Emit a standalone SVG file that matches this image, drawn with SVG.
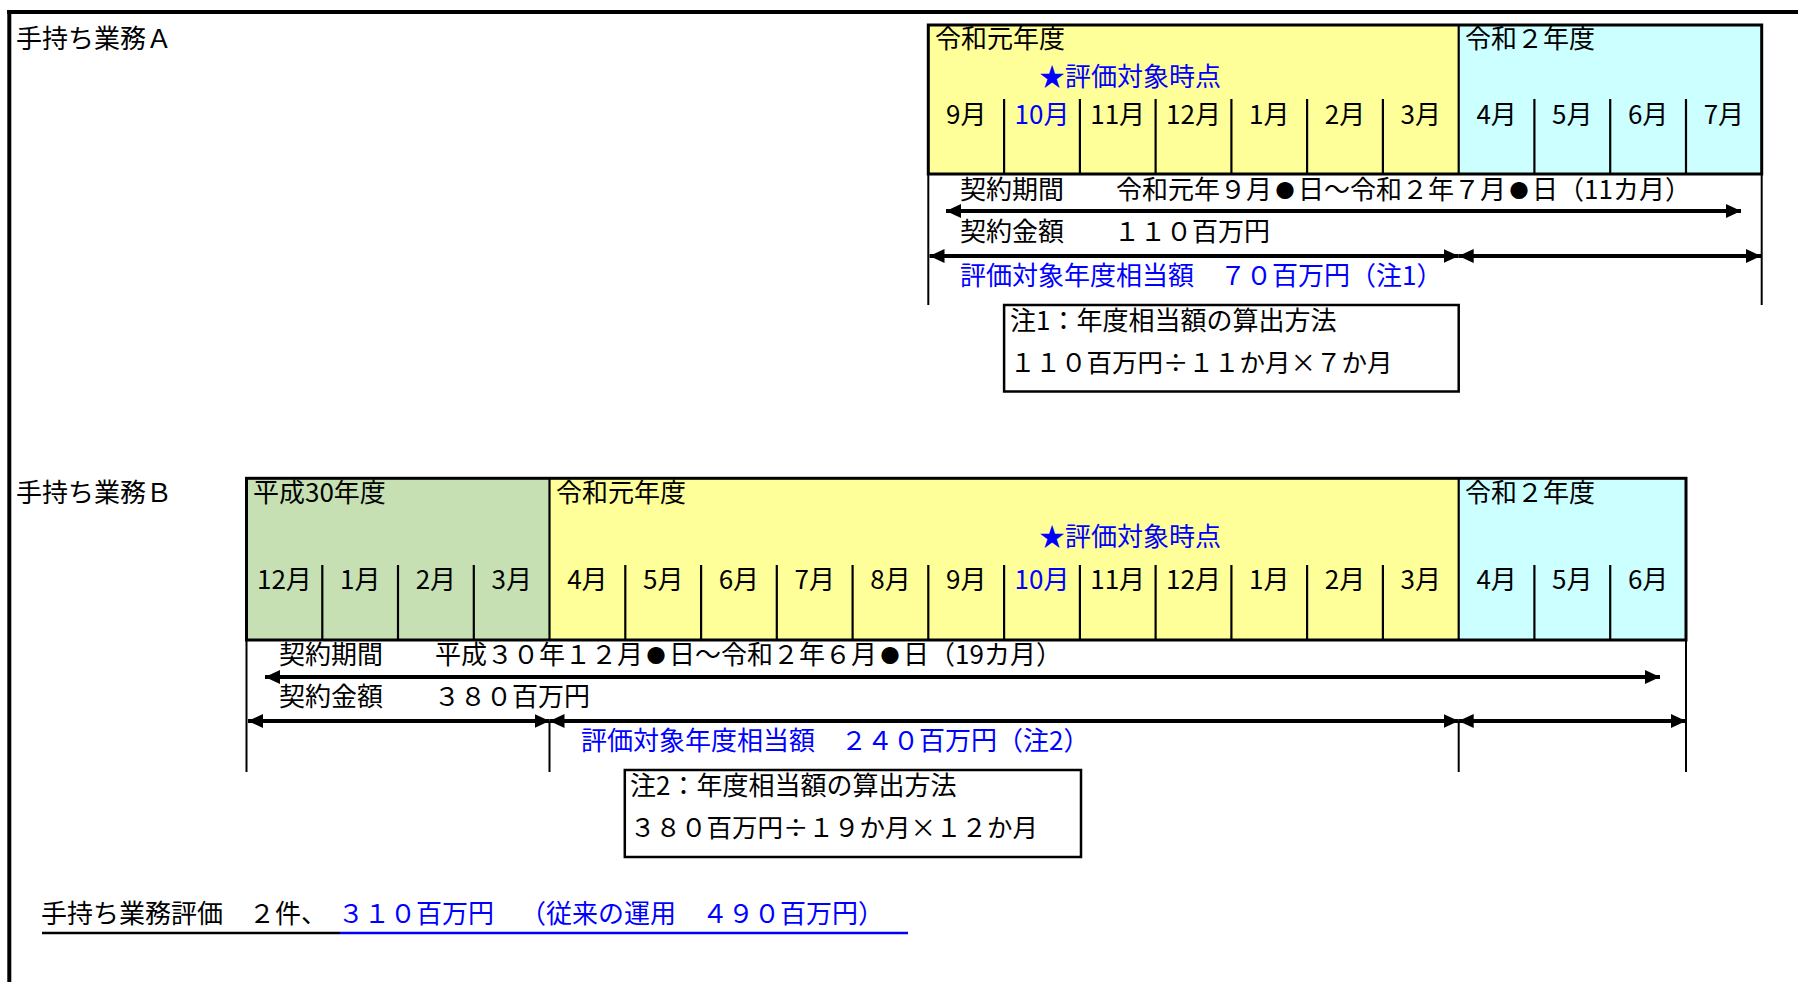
<svg xmlns="http://www.w3.org/2000/svg" width="1798" height="982" viewBox="0 0 1798 982">
<style>
text{font-family:"Noto Sans CJK JP","Noto Sans CJK SC",sans-serif;font-size:26px;fill:#000}
.b{fill:#0000FF}
.m{text-anchor:middle}
.s{font-size:25.5px}
.dot{font-size:19px}
.frame{fill:none;stroke:#000;stroke-width:3}
.div{stroke:#000;stroke-width:2.2}
.arr{stroke:#000;stroke-width:4;fill:none;marker-start:url(#ah);marker-end:url(#ah)}
.vl{stroke:#000;stroke-width:2}
.box{fill:#fff;stroke:#000;stroke-width:2.5}
</style>
<defs>
<marker id="ah" markerUnits="userSpaceOnUse" markerWidth="15" markerHeight="15" viewBox="0 0 15 15" refX="15" refY="7.5" orient="auto-start-reverse">
<path d="M0,0.5 L15,7.5 L0,14.5 z" fill="#000"/>
</marker>
</defs>
<rect x="0" y="0" width="1798" height="982" fill="#fff"/>
<g id="page-frame">
<line x1="7" y1="12" x2="1798" y2="12" stroke="#000" stroke-width="4"/>
<line x1="9.3" y1="10" x2="9.3" y2="982" stroke="#000" stroke-width="4"/>
</g>

<g id="title-a"><text x="16" y="48">手持ち業務Ａ</text></g>
<g id="title-b"><text x="16" y="502">手持ち業務Ｂ</text></g>

<g id="table-a">
<rect x="928.3" y="25" width="530.4" height="149" fill="#FFFF99"/>
<rect x="1458.7" y="25" width="303" height="149" fill="#CCFFFF"/>
<line class="div" x1="1458.7" y1="25" x2="1458.7" y2="174"/>
<line class="div" x1="1004.1" y1="99" x2="1004.1" y2="174"/>
<line class="div" x1="1079.9" y1="99" x2="1079.9" y2="174"/>
<line class="div" x1="1155.6" y1="99" x2="1155.6" y2="174"/>
<line class="div" x1="1231.4" y1="99" x2="1231.4" y2="174"/>
<line class="div" x1="1307.1" y1="99" x2="1307.1" y2="174"/>
<line class="div" x1="1382.9" y1="99" x2="1382.9" y2="174"/>
<line class="div" x1="1534.4" y1="99" x2="1534.4" y2="174"/>
<line class="div" x1="1610.2" y1="99" x2="1610.2" y2="174"/>
<line class="div" x1="1686" y1="99" x2="1686" y2="174"/>
<rect class="frame" x="928.3" y="25" width="833.4" height="149"/>
<text x="935" y="48">令和元年度</text>
<text x="1465" y="48">令和２年度</text>
<text class="b" x="1039" y="86">★評価対象時点</text>
<text class="m" x="966.2" y="124">9月</text>
<text class="m b" x="1042" y="124">10月</text>
<text class="m" x="1117.7" y="124">11月</text>
<text class="m" x="1193.5" y="124">12月</text>
<text class="m" x="1269.3" y="124">1月</text>
<text class="m" x="1345" y="124">2月</text>
<text class="m" x="1420.8" y="124">3月</text>
<text class="m" x="1496.6" y="124">4月</text>
<text class="m" x="1572.3" y="124">5月</text>
<text class="m" x="1648.1" y="124">6月</text>
<text class="m" x="1723.9" y="124">7月</text>
<text x="960" y="199">契約期間</text>
<text x="1116" y="199">令和元年９月<tspan class="dot" dx="3.5" dy="-1.5">●</tspan><tspan dx="3.5" dy="1.5">日～令和２年７月</tspan><tspan class="dot" dx="3.5" dy="-1.5">●</tspan><tspan dx="3.5" dy="1.5">日（11カ月）</tspan></text>
<text x="960" y="241">契約金額</text>
<text x="1114" y="241">１１０百万円</text>
<text class="b" x="960" y="285">評価対象年度相当額　７０百万円（注1）</text>
</g>

<g id="note-a">
<rect class="box" x="1004.1" y="305" width="454.6" height="86.5"/>
<text x="1010" y="330">注1：年度相当額の算出方法</text>
<text class="s" x="1010" y="372">１１０百万円÷１１か月×７か月</text>
</g>

<g id="table-b">
<rect x="246.5" y="478.3" width="303" height="161.7" fill="#C6E0B4"/>
<rect x="549.5" y="478.3" width="909.2" height="161.7" fill="#FFFF99"/>
<rect x="1458.7" y="478.3" width="227.3" height="161.7" fill="#CCFFFF"/>
<line class="div" x1="549.5" y1="478.3" x2="549.5" y2="640"/>
<line class="div" x1="1458.7" y1="478.3" x2="1458.7" y2="640"/>
<line class="div" x1="322.3" y1="565" x2="322.3" y2="640"/>
<line class="div" x1="398" y1="565" x2="398" y2="640"/>
<line class="div" x1="473.8" y1="565" x2="473.8" y2="640"/>
<line class="div" x1="625.3" y1="565" x2="625.3" y2="640"/>
<line class="div" x1="701.1" y1="565" x2="701.1" y2="640"/>
<line class="div" x1="776.8" y1="565" x2="776.8" y2="640"/>
<line class="div" x1="852.6" y1="565" x2="852.6" y2="640"/>
<line class="div" x1="928.3" y1="565" x2="928.3" y2="640"/>
<line class="div" x1="1004.1" y1="565" x2="1004.1" y2="640"/>
<line class="div" x1="1079.9" y1="565" x2="1079.9" y2="640"/>
<line class="div" x1="1155.6" y1="565" x2="1155.6" y2="640"/>
<line class="div" x1="1231.4" y1="565" x2="1231.4" y2="640"/>
<line class="div" x1="1307.1" y1="565" x2="1307.1" y2="640"/>
<line class="div" x1="1382.9" y1="565" x2="1382.9" y2="640"/>
<line class="div" x1="1534.4" y1="565" x2="1534.4" y2="640"/>
<line class="div" x1="1610.2" y1="565" x2="1610.2" y2="640"/>
<rect class="frame" x="246.5" y="478.3" width="1439.5" height="161.7"/>
<text x="253" y="502">平成30年度</text>
<text x="556" y="502">令和元年度</text>
<text x="1465" y="502">令和２年度</text>
<text class="b" x="1039" y="546">★評価対象時点</text>
<text class="m" x="284.4" y="589">12月</text>
<text class="m" x="360.2" y="589">1月</text>
<text class="m" x="435.9" y="589">2月</text>
<text class="m" x="511.7" y="589">3月</text>
<text class="m" x="587.4" y="589">4月</text>
<text class="m" x="663.2" y="589">5月</text>
<text class="m" x="738.9" y="589">6月</text>
<text class="m" x="814.7" y="589">7月</text>
<text class="m" x="890.5" y="589">8月</text>
<text class="m" x="966.2" y="589">9月</text>
<text class="m b" x="1042" y="589">10月</text>
<text class="m" x="1117.7" y="589">11月</text>
<text class="m" x="1193.5" y="589">12月</text>
<text class="m" x="1269.3" y="589">1月</text>
<text class="m" x="1345" y="589">2月</text>
<text class="m" x="1420.8" y="589">3月</text>
<text class="m" x="1496.6" y="589">4月</text>
<text class="m" x="1572.3" y="589">5月</text>
<text class="m" x="1648.1" y="589">6月</text>
<text x="279" y="664">契約期間</text>
<text x="435" y="664">平成３０年１２月<tspan class="dot" dx="3.5" dy="-1.5">●</tspan><tspan dx="3.5" dy="1.5">日～令和２年６月</tspan><tspan class="dot" dx="3.5" dy="-1.5">●</tspan><tspan dx="3.5" dy="1.5">日（19カ月）</tspan></text>
<text x="279" y="706">契約金額</text>
<text x="434" y="706">３８０百万円</text>
<text class="b" x="581" y="750">評価対象年度相当額　２４０百万円（注2）</text>
</g>

<g id="note-b">
<rect class="box" x="624.8" y="770" width="456.2" height="87"/>
<text x="630" y="795">注2：年度相当額の算出方法</text>
<text class="s" x="630" y="837">３８０百万円÷１９か月×１２か月</text>
</g>

<g id="summary">
<text x="41" y="923">手持ち業務評価　２件、</text>
<text class="b" x="338" y="923">３１０百万円　<tspan dx="13">（従来の運用　４９０百万円）</tspan></text>
<line x1="42" y1="933" x2="340" y2="933" stroke="#000" stroke-width="2.5"/>
<line x1="340" y1="933" x2="908" y2="933" stroke="#0000FF" stroke-width="2.5"/>
</g>

<g id="connectors">
<line class="vl" x1="928.3" y1="174" x2="928.3" y2="305"/>
<line class="vl" x1="1761.7" y1="174" x2="1761.7" y2="305"/>
<line class="arr" x1="946" y1="211" x2="1741" y2="211"/>
<line class="arr" x1="929.5" y1="256" x2="1458.7" y2="256"/>
<line class="arr" x1="1458.7" y1="256" x2="1761" y2="256"/>
<line class="vl" x1="246.5" y1="640" x2="246.5" y2="772"/>
<line class="vl" x1="549.5" y1="721" x2="549.5" y2="772"/>
<line class="vl" x1="1458.7" y1="721" x2="1458.7" y2="772"/>
<line class="vl" x1="1686" y1="640" x2="1686" y2="772"/>
<line class="arr" x1="265" y1="677" x2="1660" y2="677"/>
<line class="arr" x1="248" y1="721" x2="549.5" y2="721"/>
<line class="arr" x1="549.5" y1="721" x2="1458.7" y2="721"/>
<line class="arr" x1="1458.7" y1="721" x2="1686" y2="721"/>
</g>
</svg>
